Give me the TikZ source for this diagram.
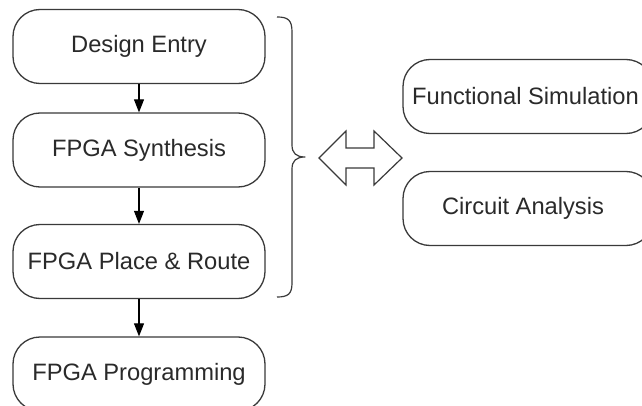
\documentclass[tikz,border=0pt]{standalone}
\usepackage{fontspec}
\setmainfont{Liberation Sans}
\usetikzlibrary{arrows.meta}
\definecolor{linegray}{HTML}{3A3A3A}
\definecolor{textgray}{HTML}{2A2A2A}
\tikzset{
  stepbox/.style={draw=linegray, line width=1.3pt, rounded corners=27pt,
    minimum width=252pt, minimum height=74pt, inner sep=0pt,
    font=\fontsize{23.7}{28}\selectfont, text=textgray},
  flowarrow/.style={draw=black, line width=1.1pt, -{Triangle[length=13pt,width=10pt]}},
  outline/.style={draw=linegray, line width=1.2pt, line join=miter}
}
\begin{document}
\begin{tikzpicture}[x=1pt,y=-1pt]
\useasboundingbox (0,0) rectangle (642,406);
\fill[white] (0,0) rectangle (642,406);
\clip (0,0) rectangle (642,406);
\node[stepbox] (entry) at (139,46.5) {Design Entry};
\node[stepbox] (synth) at (139,150) {FPGA Synthesis};
\node[stepbox] (place) at (139,261.5) {FPGA Place \& Route};
\node[stepbox] (prog) at (139,374) {FPGA Programming};
\node[stepbox, minimum width=250pt] (func) at (528,96.5) {\hspace*{-5pt}Functional Simulation};
\node[stepbox, minimum width=250pt] (circ) at (528,208.5) {\hspace*{-10pt}Circuit Analysis};
\draw[flowarrow] (entry) -- (synth);
\draw[flowarrow] (synth) -- (place);
\draw[flowarrow] (place) -- (prog);
% brace
\draw[outline, line join=round] (277,17) .. controls (288,17) and (292,20) .. (292,32)
  -- (292,145) .. controls (292,153) and (296,157) .. (305,157)
  .. controls (296,157) and (292,161) .. (292,169)
  -- (292,283) .. controls (292,294) and (288,297) .. (277,297);
% double arrow
\draw[outline] (319,158) -- (346,131) -- (346,148) -- (374,148) -- (374,131)
  -- (402,158) -- (374,185) -- (374,168) -- (346,168) -- (346,185) -- cycle;
\end{tikzpicture}
\end{document}
